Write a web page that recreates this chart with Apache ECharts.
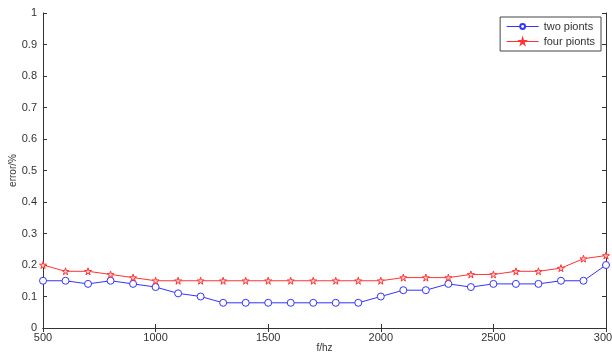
<!DOCTYPE html>
<html>
<head>
<meta charset="utf-8">
<script src="https://cdn.jsdelivr.net/npm/echarts@6/dist/echarts.min.js"></script>
<style>
  html, body {margin: 0; padding: 0; background: #fff;}
  #chart {width: 612px; height: 357px;}
</style>
</head>
<body>
<div id="chart"></div>
<script>
// frequencies in Hz
const freqs = [500, 600, 700, 800, 900, 1000, 1100, 1200, 1300, 1400, 1500, 1600, 1700,
  1800, 1900, 2000, 2100, 2200, 2300, 2400, 2500, 2600, 2700, 2800, 2900, 3000]
const twoPoints = [0.15, 0.15, 0.14, 0.15, 0.14, 0.13, 0.11, 0.10, 0.08, 0.08, 0.08, 0.08, 0.08,
  0.08, 0.08, 0.10, 0.12, 0.12, 0.14, 0.13, 0.14, 0.14, 0.14, 0.15, 0.15, 0.20]
const fourPoints = [0.20, 0.18, 0.18, 0.17, 0.16, 0.15, 0.15, 0.15, 0.15, 0.15, 0.15, 0.15, 0.15,
  0.15, 0.15, 0.15, 0.16, 0.16, 0.16, 0.17, 0.17, 0.18, 0.18, 0.19, 0.22, 0.23]

const star = 'path://M50,0 L61,35 L98,35 L68,57 L79,91 L50,70 L21,91 L32,57 L2,35 L39,35 Z'
const axisColor = '#333'
const font = 'Liberation Sans, Arial, sans-serif'
const labelStyle = {color: '#333', fontSize: 11, fontFamily: font}

const zip = arr => freqs.map((f, i) => [f, arr[i]])

const chart = echarts.init(document.getElementById('chart'))
chart.setOption({
  animation: false,
  backgroundColor: '#fff',
  grid: {left: 43, right: 6, top: 13, bottom: 29, outerBoundsMode: 'none', containLabel: false},
  legend: {
    orient: 'vertical',
    right: 11,
    top: 17,
    padding: [4, 6, 4, 6],
    itemGap: 4,
    itemWidth: 32,
    itemHeight: 6,
    borderColor: '#444',
    borderWidth: 1,
    backgroundColor: '#fff',
    lineStyle: {width: 1},
    textStyle: {color: '#333', fontSize: 11, fontFamily: font},
    data: ['two pionts', 'four pionts']
  },
  xAxis: [{
    type: 'value', min: 500, max: 3000, interval: 500,
    name: 'f/hz', nameLocation: 'middle', nameGap: 15, nameMoveOverlap: false,
    nameTextStyle: {color: '#333', fontSize: 10, fontFamily: font},
    axisLine: {lineStyle: {color: axisColor}},
    axisTick: {inside: true, length: 4, lineStyle: {color: axisColor}},
    axisLabel: Object.assign({margin: 4, formatter: v => String(v)}, labelStyle),
    splitLine: {show: false}
  }, {
    type: 'value', position: 'top', min: 500, max: 3000, interval: 500,
    axisLine: {lineStyle: {color: axisColor}},
    axisTick: {inside: true, length: 4, lineStyle: {color: axisColor}},
    axisLabel: {show: false},
    splitLine: {show: false}
  }],
  yAxis: [{
    type: 'value', min: 0, max: 1, interval: 0.1,
    name: 'error/%', nameLocation: 'middle', nameGap: 25, nameMoveOverlap: false,
    nameTextStyle: {color: '#333', fontSize: 10, fontFamily: font},
    axisLine: {lineStyle: {color: axisColor}},
    axisTick: {inside: true, length: 4, lineStyle: {color: axisColor}},
    axisLabel: Object.assign({margin: 6, formatter: v => String(Math.round(v * 10) / 10)}, labelStyle),
    splitLine: {show: false}
  }, {
    type: 'value', position: 'right', min: 0, max: 1, interval: 0.1,
    axisLine: {lineStyle: {color: axisColor}},
    axisTick: {inside: true, length: 4, lineStyle: {color: axisColor}},
    axisLabel: {show: false},
    splitLine: {show: false}
  }],
  series: [{
    name: 'two pionts',
    type: 'line',
    data: zip(twoPoints),
    symbol: 'circle',
    symbolSize: 7,
    showAllSymbol: true,
    color: '#3333ff',
    lineStyle: {width: 1, color: '#3333ff'},
    itemStyle: {color: '#fff', borderColor: '#3333ff', borderWidth: 1}
  }, {
    name: 'four pionts',
    type: 'line',
    data: zip(fourPoints),
    symbol: star,
    symbolSize: 7,
    showAllSymbol: true,
    color: '#ff3333',
    lineStyle: {width: 1, color: '#ff3333'},
    itemStyle: {color: '#ffcccc', borderColor: '#ff3333', borderWidth: 1}
  }]
})
</script>
</body>
</html>
